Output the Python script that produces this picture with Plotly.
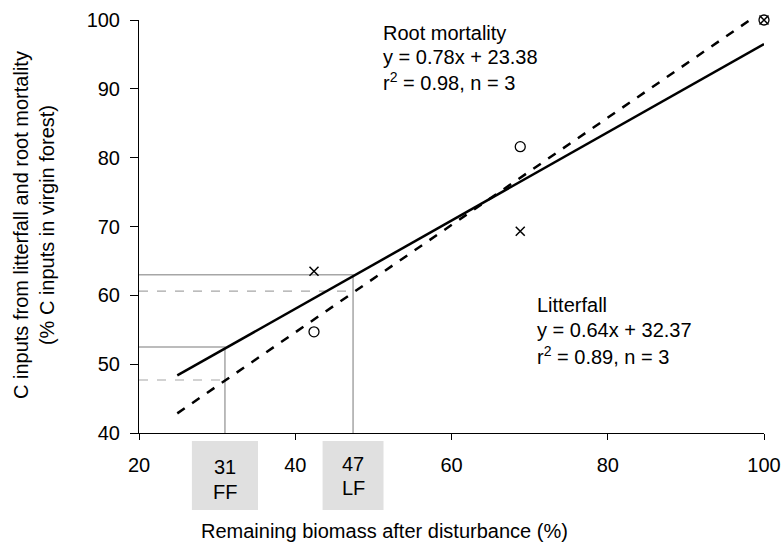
import plotly.graph_objects as go

# Observed data (remaining biomass %, C inputs %)
biomass = [42.4, 68.8, 100]
root_mortality = [54.7, 81.6, 100]
litterfall = [63.5, 69.3, 100]

# Regression line endpoints
root_fit_x = [24.9, 100]
root_fit_y = [42.85, 101.4]
litter_fit_x = [24.9, 100]
litter_fit_y = [48.36, 96.5]

# Reference thresholds
ff_x = 31
lf_x = 47.4
litter_ff, root_ff = 52.5, 47.7
litter_lf, root_lf = 63.0, 60.6

threshold_labels = [["31", "FF"], ["47", "LF"]]
threshold_x = [ff_x, lf_x]

root_text = ["Root mortality", "y = 0.78x + 23.38", "r<sup>2</sup> = 0.98, n = 3"]
litter_text = ["Litterfall", "y = 0.64x + 32.37", "r<sup>2</sup> = 0.89, n = 3"]

FONT = "Liberation Sans, Arial, Helvetica, sans-serif"
FS = 20
GRAY = "#a6a6a6"

# body margin removed via post_script, so the figure fills the window
W, H = 782, 544
# plot area in window pixels: x 139..764, y 20..433
PX0, PX1, PY0, PY1 = 139, 764, 20, 433
L, R, T, B = PX0, W - PX1, PY0, H - PY1
PW, PH = PX1 - PX0, PY1 - PY0


def px_x(p):
    return (p - PX0) / PW


def px_y(p):
    return (PY1 - p) / PH


fig = go.Figure()

# Gray guide lines (solid for litterfall, dashed for root mortality)
for xv, yl, yr in [(ff_x, litter_ff, root_ff), (lf_x, litter_lf, root_lf)]:
    fig.add_trace(go.Scatter(x=[20, xv, xv], y=[yl, yl, 40], mode="lines",
                             line=dict(color=GRAY, width=1.5), hoverinfo="skip", showlegend=False))
    fig.add_trace(go.Scatter(x=[20, xv], y=[yr, yr], mode="lines",
                             line=dict(color=GRAY, width=1.2, dash="dash"), hoverinfo="skip", showlegend=False))

fig.add_trace(go.Scatter(x=litter_fit_x, y=litter_fit_y, mode="lines",
                         line=dict(color="black", width=2.5), showlegend=False))
fig.add_trace(go.Scatter(x=root_fit_x, y=root_fit_y, mode="lines",
                         line=dict(color="black", width=2.5, dash="dash"), showlegend=False))

fig.add_trace(go.Scatter(x=biomass, y=root_mortality, mode="markers",
                         marker=dict(symbol="circle-open", size=10, color="black", line=dict(width=1.3)),
                         showlegend=False, cliponaxis=False))
fig.add_trace(go.Scatter(x=biomass, y=litterfall, mode="markers",
                         marker=dict(symbol="x-thin-open", size=9, color="black", line=dict(width=1.5)),
                         showlegend=False, cliponaxis=False))

# Gray boxes under the x-axis
box_half = [4.23, 3.9]
box_centers = [[466.5, 491.5], [464, 488]]
for xv, labs, hw, ys in zip(threshold_x, threshold_labels, box_half, box_centers):
    fig.add_shape(type="rect", xref="x", yref="paper", x0=xv - hw, x1=xv + hw,
                  y0=px_y(510), y1=px_y(441), fillcolor="#e0e0e0", line=dict(width=0), layer="below")
    for lab, yc in zip(labs, ys):
        fig.add_annotation(x=xv, y=px_y(yc), xref="x", yref="paper", text=lab, showarrow=False,
                           xanchor="center", yanchor="middle",
                           font=dict(family=FONT, size=FS, color="black"))

for txt, yc in zip(root_text, [33, 57, 81]):
    fig.add_annotation(xref="paper", yref="paper", x=px_x(381), y=px_y(yc),
                       xanchor="left", yanchor="middle", showarrow=False, text=txt,
                       font=dict(family=FONT, size=FS, color="black"))
for txt, yc in zip(litter_text, [304.5, 330, 355]):
    fig.add_annotation(xref="paper", yref="paper", x=px_x(535), y=px_y(yc),
                       xanchor="left", yanchor="middle", showarrow=False, text=txt,
                       font=dict(family=FONT, size=FS, color="black"))

# Axis titles
fig.add_annotation(xref="paper", yref="paper", x=px_x(384), y=px_y(531),
                   xanchor="center", yanchor="middle", showarrow=False,
                   text="Remaining biomass after disturbance (%)",
                   font=dict(family=FONT, size=FS, color="black"))
fig.add_annotation(xref="paper", yref="paper", x=px_x(34), y=px_y(225),
                   xanchor="center", yanchor="middle", showarrow=False, textangle=-90,
                   text="C inputs from litterfall and root mortality<br>(% C inputs in virgin forest)",
                   font=dict(family=FONT, size=FS, color="black"))

axis_common = dict(showgrid=False, zeroline=False, showline=True, linecolor="black", linewidth=1,
                   ticks="outside", tickcolor="black", automargin=False,
                   tickfont=dict(family=FONT, size=FS, color="black"))

fig.update_layout(
    width=W, height=H,
    margin=dict(l=L, r=R, t=T, b=B),
    paper_bgcolor="white", plot_bgcolor="white",
    xaxis=dict(range=[20, 100], tickvals=[20, 40, 60, 80, 100], ticklen=6,
               ticklabelstandoff=8, ticklabeloverflow="allow", **axis_common),
    yaxis=dict(range=[40, 100], tickvals=[40, 50, 60, 70, 80, 90, 100], ticklen=8,
               ticklabelstandoff=6, **axis_common),
)

fig.write_html("out.html", config={"displayModeBar": False},
               post_script="document.body.style.margin='0';document.body.style.overflow='hidden';")
